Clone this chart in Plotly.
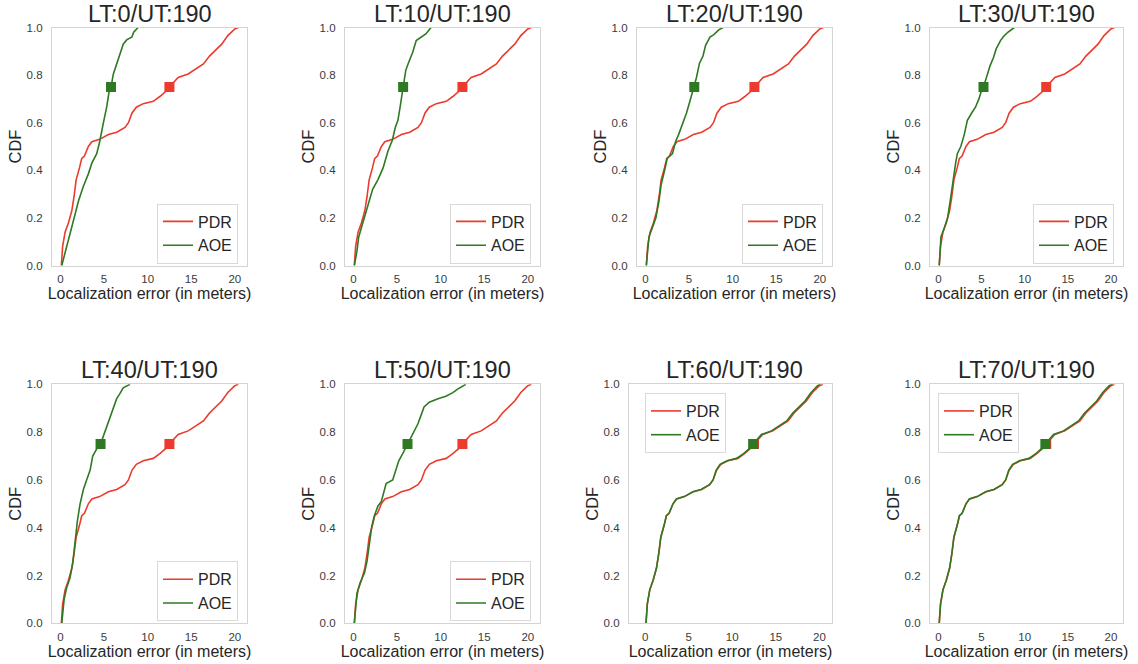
import numpy as np
import plotly.graph_objects as go
from plotly.subplots import make_subplots

# ---------------- data ----------------
PANEL_LT = [0, 10, 20, 30, 40, 50, 60, 70]
UT = 190
X_TICKS = [0, 5, 10, 15, 20]
Y_TICKS = [0.0, 0.2, 0.4, 0.6, 0.8, 1.0]

# PDR empirical CDF (same in every panel)
PDR_X = [0.05, 0.1, 0.25, 0.53, 0.92, 1.3, 1.56, 1.8, 2.18, 2.44, 2.75, 3.2, 3.6, 4.5, 5.5,
         6.45, 7.4, 7.8, 8.2, 8.7, 9.5, 10.65, 11.4, 12.2, 12.5, 13.5, 14.65, 15.6, 16.4,
         17.1, 17.7, 18.5, 19.2, 20.0, 20.4]
PDR_Y = [0.0, 0.0, 0.08, 0.14, 0.18, 0.23, 0.29, 0.36, 0.41, 0.45, 0.46, 0.50, 0.52, 0.53, 0.55,
         0.56, 0.58, 0.60, 0.64, 0.665, 0.68, 0.69, 0.71, 0.735, 0.75, 0.79, 0.805, 0.826, 0.847,
         0.88, 0.90, 0.93, 0.966, 0.994, 1.0]

AOE_LT0_X = [0.15, 0.3, 0.53, 0.92, 1.5, 2.06, 2.6, 3.2, 3.6, 4.16, 4.5, 4.9, 5.3, 5.6, 5.8,
             6.07, 6.45, 6.8, 7.2, 7.6, 8.2, 8.4, 8.9]
AOE_LT0_Y = [0.0, 0.02, 0.05, 0.105, 0.19, 0.27, 0.33, 0.385, 0.43, 0.47, 0.52, 0.595, 0.665,
             0.735, 0.75, 0.805, 0.847, 0.89, 0.93, 0.948, 0.96, 0.98, 1.0]

AOE_LT10_X = [0.1, 0.4, 0.6, 1.15, 1.65, 2.2, 2.8, 3.4, 3.95, 4.45, 4.8, 5.1, 5.35, 5.6, 5.7,
              6.0, 6.35, 6.8, 7.2, 7.6, 8.3, 8.9]
AOE_LT10_Y = [0.0, 0.06, 0.12, 0.19, 0.25, 0.32, 0.36, 0.41, 0.48, 0.525, 0.58, 0.61, 0.665,
              0.73, 0.75, 0.82, 0.855, 0.896, 0.945, 0.956, 0.973, 1.0]

AOE_LT20_X = [0.1, 0.4, 0.8, 1.2, 1.55, 1.8, 2.2, 2.5, 3.1, 3.45, 3.8, 4.2, 4.7, 5.1, 5.4, 5.6,
              5.85, 6.2, 6.6, 6.9, 7.4, 7.85, 8.4, 8.9]
AOE_LT20_Y = [0.0, 0.12, 0.16, 0.2, 0.27, 0.34, 0.40, 0.45, 0.47, 0.52, 0.55, 0.59, 0.64, 0.69,
              0.73, 0.75, 0.79, 0.85, 0.88, 0.925, 0.96, 0.97, 0.99, 1.0]

AOE_LT30_X = [0.1, 0.3, 0.7, 1.07, 1.45, 1.7, 2.0, 2.2, 2.6, 3.0, 3.36, 3.93, 4.3, 4.7, 5.0, 5.23,
              5.65, 6.0, 6.4, 6.7, 7.2, 7.55, 8.05, 8.8]
AOE_LT30_Y = [0.0, 0.12, 0.16, 0.2, 0.29, 0.36, 0.43, 0.47, 0.50, 0.55, 0.61, 0.645, 0.665, 0.70,
              0.735, 0.75, 0.80, 0.84, 0.875, 0.91, 0.945, 0.962, 0.98, 1.0]

AOE_LT40_X = [0.15, 0.42, 0.72, 1.1, 1.4, 1.68, 1.95, 2.25, 2.63, 3.0, 3.4, 3.7, 4.16, 4.6, 4.9,
              5.3, 5.7, 6.15, 6.45, 6.8, 7.2, 7.98]
AOE_LT40_Y = [0.0, 0.1, 0.15, 0.19, 0.25, 0.35, 0.43, 0.50, 0.56, 0.60, 0.64, 0.70, 0.73, 0.75,
              0.78, 0.82, 0.86, 0.91, 0.94, 0.96, 0.985, 1.0]

AOE_LT50_X = [0.1, 0.4, 0.76, 1.26, 1.56, 1.8, 2.1, 2.4, 2.8, 3.2, 3.45, 3.75, 4.5, 4.8, 5.2,
              5.65, 6.2, 6.6, 7.0, 7.4, 7.75, 8.1, 8.7, 9.7, 10.6, 11.4, 11.95, 12.9]
AOE_LT50_Y = [0.0, 0.125, 0.17, 0.21, 0.26, 0.335, 0.405, 0.45, 0.49, 0.51, 0.55, 0.585, 0.60,
              0.635, 0.68, 0.71, 0.75, 0.775, 0.81, 0.835, 0.87, 0.905, 0.925, 0.94, 0.95, 0.965,
              0.98, 1.0]

AOE_LT60_X = [0.05, 0.1, 0.25, 0.53, 0.92, 1.3, 1.56, 1.8, 2.18, 2.44, 2.75, 3.2, 3.6, 4.5, 5.5,
              6.45, 7.4, 7.8, 8.15, 8.6, 9.4, 10.5, 11.3, 12.1, 12.4, 13.35, 14.5, 15.45, 16.25,
              16.95, 17.55, 18.35, 19.05, 19.8, 20.1]
AOE_LT60_Y = [0.0, 0.0, 0.08, 0.14, 0.18, 0.23, 0.29, 0.36, 0.41, 0.45, 0.46, 0.50, 0.52, 0.53,
              0.55, 0.56, 0.58, 0.60, 0.64, 0.665, 0.68, 0.69, 0.71, 0.735, 0.75, 0.79, 0.805,
              0.826, 0.847, 0.88, 0.90, 0.93, 0.966, 0.994, 1.0]

AOE_LT70_X = [0.05, 0.1, 0.25, 0.53, 0.92, 1.3, 1.56, 1.8, 2.18, 2.44, 2.75, 3.2, 3.6, 4.5, 5.5,
              6.45, 7.4, 7.8, 8.15, 8.6, 9.4, 10.5, 11.3, 12.1, 12.4, 13.35, 14.5, 15.45, 16.25,
              16.95, 17.55, 18.35, 19.05, 19.8, 20.15]
AOE_LT70_Y = [0.0, 0.0, 0.08, 0.14, 0.18, 0.23, 0.29, 0.36, 0.41, 0.45, 0.46, 0.50, 0.52, 0.53,
              0.55, 0.56, 0.58, 0.60, 0.64, 0.665, 0.68, 0.69, 0.71, 0.735, 0.75, 0.79, 0.805,
              0.826, 0.847, 0.88, 0.90, 0.93, 0.966, 0.994, 1.0]

AOE_X = [AOE_LT0_X, AOE_LT10_X, AOE_LT20_X, AOE_LT30_X, AOE_LT40_X, AOE_LT50_X, AOE_LT60_X, AOE_LT70_X]
AOE_Y = [AOE_LT0_Y, AOE_LT10_Y, AOE_LT20_Y, AOE_LT30_Y, AOE_LT40_Y, AOE_LT50_Y, AOE_LT60_Y, AOE_LT70_Y]
MARK_Q = 0.75

# ---------------- style / layout ----------------
W, H = 1138, 664
RED = "#ec3a2c"
GREEN = "#2e7a22"
TEXT = "#262626"
TICK = "#3a3a3a"
FRAME = "#d4d4d4"
FONT = "Liberation Sans, Arial, sans-serif"

COL_DOM = [(52, 247), (345, 540), (637, 832), (930, 1123)]
ROW_DOM = [(27.5, 265.5), (384.3, 623.3)]
TITLE_CX = [149.5, 442.5, 734.5, 1026.5]
XR_DEFAULT = [-0.97, 21.4]


def fx(p):
    return p / W


def fy(p):
    return 1 - p / H


fig = make_subplots(rows=2, cols=4)

annotations = []
for k, lt in enumerate(PANEL_LT):
    r, c = divmod(k, 4)
    leg = "legend" if k == 0 else f"legend{k + 1}"
    ax_sfx = "" if k == 0 else str(k + 1)

    fig.add_trace(go.Scatter(x=PDR_X, y=PDR_Y, mode="lines", name="PDR",
                             line=dict(color=RED, width=1.6), legend=leg),
                  row=r + 1, col=c + 1)
    fig.add_trace(go.Scatter(x=AOE_X[k], y=AOE_Y[k], mode="lines", name="AOE",
                             line=dict(color=GREEN, width=1.6), legend=leg),
                  row=r + 1, col=c + 1)
    q_pdr = float(np.interp(MARK_Q, PDR_Y, PDR_X))
    q_aoe = float(np.interp(MARK_Q, AOE_Y[k], AOE_X[k]))
    fig.add_trace(go.Scatter(x=[q_pdr], y=[MARK_Q], mode="markers", showlegend=False,
                             marker=dict(symbol="square", size=10, color=RED, line=dict(width=0))),
                  row=r + 1, col=c + 1)
    fig.add_trace(go.Scatter(x=[q_aoe], y=[MARK_Q], mode="markers", showlegend=False,
                             marker=dict(symbol="square", size=10, color=GREEN, line=dict(width=0))),
                  row=r + 1, col=c + 1)

    x0, x1 = COL_DOM[c]
    xr = XR_DEFAULT
    if lt == 60:
        x0 = 629
        xr = [-1.85, 21.45]
    y0, y1 = ROW_DOM[r]

    fig.layout["xaxis" + ax_sfx].update(
        domain=[fx(x0), fx(x1)], range=xr, tickvals=X_TICKS, ticktext=[str(v) for v in X_TICKS],
        automargin=False,
        showgrid=False, zeroline=False, showline=True, mirror=True, linecolor=FRAME, linewidth=1.2,
        ticks="", ticklabelstandoff=3, tickfont=dict(size=11.5, color=TICK, family=FONT),
        title=dict(text="Localization error (in meters)", standoff=2,
                   font=dict(size=16, color=TEXT, family=FONT)))
    fig.layout["yaxis" + ax_sfx].update(
        domain=[fy(y1), fy(y0)], range=[0, 1], tickvals=Y_TICKS, tickformat=".1f",
        automargin=False,
        showgrid=False, zeroline=False, showline=True, mirror=True, linecolor=FRAME, linewidth=1.2,
        ticks="", ticklabelstandoff=6, tickfont=dict(size=11.5, color=TICK, family=FONT),
        title=dict(text="CDF", standoff=0, font=dict(size=16.5, color=TEXT, family=FONT)))

    annotations.append(dict(text=f"LT:{lt}/UT:{UT}", xref="paper", yref="paper",
                            x=fx(TITLE_CX[c]), y=fy(y0 - 14), xanchor="center", yanchor="middle",
                            showarrow=False, font=dict(size=23.5, color=TEXT, family=FONT)))

    legend_style = dict(bgcolor="white", bordercolor="#d9d9d9", borderwidth=1,
                        font=dict(size=16, color=TEXT, family=FONT), itemwidth=30,
                        tracegroupgap=0)
    if lt in (60, 70):
        lx = 645 if lt == 60 else 938
        legend_style.update(x=fx(lx), y=fy(393), xanchor="left", yanchor="top")
    else:
        legend_style.update(x=fx(x1 - 9), y=fy(y1 - 2), xanchor="right", yanchor="bottom")
    fig.update_layout(**{leg: legend_style})

fig.update_layout(width=W, height=H, margin=dict(l=0, r=0, t=0, b=0),
                  paper_bgcolor="white", plot_bgcolor="white",
                  font=dict(family=FONT, color=TEXT), annotations=annotations)

# remove the browser's default 8 px page margin so the figure fills the window exactly
fig.write_html("out.html", config={"displayModeBar": False},
               post_script="document.body.style.margin='0';")
